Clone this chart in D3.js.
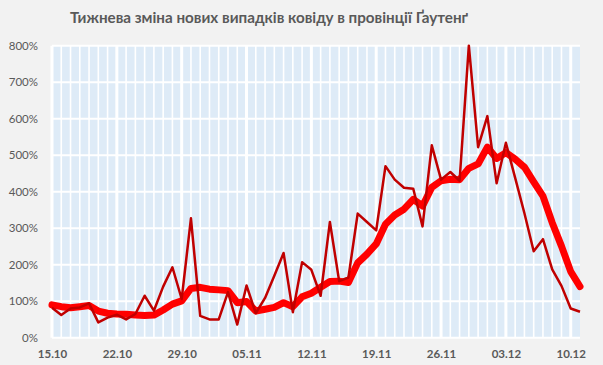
<!DOCTYPE html>
<html>
<head>
<meta charset="utf-8">
<script src="https://cdn.jsdelivr.net/npm/d3@7"></script>
<style>
  html, body { margin: 0; padding: 0; background: #f2f2f2; }
  svg { display: block; }
</style>
</head>
<body>
<svg id="chart" width="603" height="365"></svg>
<script>
const titleText = "Тижнева зміна нових випадків ковіду в провінції Ґаутенґ";

const categories = [
  "15.10","16.10","17.10","18.10","19.10","20.10","21.10","22.10","23.10","24.10",
  "25.10","26.10","27.10","28.10","29.10","30.10","31.10","01.11","02.11","03.11",
  "04.11","05.11","06.11","07.11","08.11","09.11","10.11","11.11","12.11","13.11",
  "14.11","15.11","16.11","17.11","18.11","19.11","20.11","21.11","22.11","23.11",
  "24.11","25.11","26.11","27.11","28.11","29.11","30.11","01.12","02.12","03.12",
  "04.12","05.12","06.12","07.12","08.12","09.12","10.12","11.12"
];

const dailyChange = [
  82, 62, 80, 83, 94, 42, 55, 63, 50, 65,
  115, 74, 140, 193, 106, 327, 60, 50, 50, 125,
  36, 143, 67, 109, 170, 232, 70, 207, 186, 115,
  317, 155, 165, 340, 317, 294, 470, 433, 411, 408,
  305, 527, 433, 454, 430, 800, 522, 607, 423, 534,
  438, 341, 237, 270, 187, 142, 80, 71
];

const smoothedChange = [
  90, 85, 82, 85, 88, 73, 67, 65, 64, 62,
  61, 62, 76, 92, 101, 135, 138, 133, 131, 129,
  96, 99, 73, 78, 83, 96, 85, 112, 122, 138,
  154, 155, 151, 205, 229, 257, 311, 336, 352, 379,
  361, 412, 430, 434, 433, 464, 476, 522, 491, 507,
  489, 467, 427, 388, 315, 251, 181, 140
];

const xTickLabels = ["15.10","22.10","29.10","05.11","12.11","19.11","26.11","03.12","10.12"];
const yTickValues = [0, 100, 200, 300, 400, 500, 600, 700, 800];

const svg = d3.select("#chart");
const W = 603, H = 365;
const plot = { left: 52, right: 580, top: 45.7, bottom: 337.7 };

svg.append("rect").attr("width", W).attr("height", H).attr("fill", "#f2f2f2");

const x = d3.scalePoint().domain(categories).range([plot.left, plot.right]).padding(0);
const y = d3.scaleLinear().domain([0, 800]).range([plot.bottom, plot.top]);

// plot background
svg.append("rect")
  .attr("x", plot.left).attr("y", plot.top)
  .attr("width", plot.right - plot.left).attr("height", plot.bottom - plot.top)
  .attr("fill", "#deebf7");

// vertical gridlines (daily minor, weekly major)
svg.append("g").selectAll("line").data(categories.slice(0, -1)).join("line")
  .attr("x1", d => x(d)).attr("x2", d => x(d))
  .attr("y1", plot.top).attr("y2", plot.bottom)
  .attr("stroke", "#ffffff")
  .attr("stroke-width", d => xTickLabels.includes(d) ? 3 : 1.6);

// horizontal gridlines
svg.append("g").selectAll("line").data(yTickValues).join("line")
  .attr("x1", plot.left).attr("x2", plot.right)
  .attr("y1", d => y(d)).attr("y2", d => y(d))
  .attr("stroke", "#ffffff").attr("stroke-width", 2);

// lines
const line = d3.line().x((d, i) => x(categories[i])).y(d => y(d)).curve(d3.curveLinear);

svg.append("path").datum(smoothedChange)
  .attr("d", line).attr("fill", "none")
  .attr("stroke", "#ff0000").attr("stroke-width", 7)
  .attr("stroke-linejoin", "round").attr("stroke-linecap", "round");

svg.append("path").datum(dailyChange)
  .attr("d", line).attr("fill", "none")
  .attr("stroke", "#c00000").attr("stroke-width", 2.5)
  .attr("stroke-linejoin", "round");

// axes
const yAxis = d3.axisLeft(y).tickValues(yTickValues).tickFormat(d => d + "%").tickSize(0).tickPadding(14);
const gy = svg.append("g").attr("transform", `translate(${plot.left},0)`).call(yAxis);
gy.select(".domain").remove();
gy.selectAll("text")
  .attr("font-family", "Lato, 'Open Sans', sans-serif")
  .attr("font-size", 11.5).attr("fill", "#595959");

const xAxis = d3.axisBottom(x).tickValues(xTickLabels).tickSize(0).tickPadding(12.5);
const gx = svg.append("g").attr("transform", `translate(0,${plot.bottom})`).call(xAxis);
gx.select(".domain").remove();
gx.selectAll("text")
  .attr("font-family", "Lato, 'Open Sans', sans-serif")
  .attr("font-weight", "bold")
  .attr("font-size", 11.5).attr("fill", "#595959");

// title
svg.append("text")
  .attr("x", 269).attr("y", 22.7)
  .attr("text-anchor", "middle")
  .attr("font-family", "Lato, 'Open Sans', sans-serif")
  .attr("font-weight", "bold")
  .attr("font-size", 15.5)
  .attr("fill", "#595959")
  .attr("textLength", 398)
  .attr("lengthAdjust", "spacingAndGlyphs")
  .text(titleText);
</script>
</body>
</html>
